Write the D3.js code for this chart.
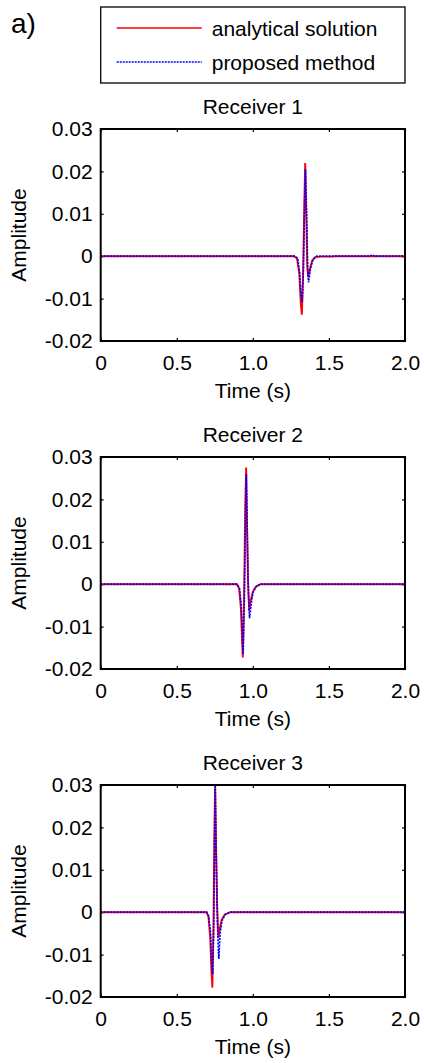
<!DOCTYPE html>
<html>
<head>
<meta charset="utf-8">
<script src="https://cdn.jsdelivr.net/npm/d3@7"></script>
<style>
	body { margin: 0; background: #fff; }
	svg { display: block; font-family: "Liberation Sans", Arial, sans-serif; }
	.axis text { font-size: 21px; fill: #000; }
	.axis line { stroke: #000; stroke-width: 1.2; }
</style>
</head>
<body>
<div id="chart"></div>
<script>

/*
Data (time in s, amplitude)
*/
var receiverNames = ["Receiver 1", "Receiver 2", "Receiver 3"];
var seriesNames = ["analytical solution", "proposed method"];

// Receiver 1
var r1AnalyticT = [0, 1.27, 1.29, 1.305, 1.315, 1.322, 1.33, 1.338, 1.344, 1.352, 1.358, 1.365, 1.375, 1.39, 1.41, 1.45, 1.53, 1.535, 2.0];
var r1AnalyticV = [0, 0, -0.0005, -0.004, -0.011, -0.0138, -0.005, 0.012, 0.022, 0.008, -0.003, -0.005, -0.003, -0.001, -0.0002, -0.0001, -0.0001, 0, 0];
var r1ProposedT = [0, 1.275, 1.295, 1.308, 1.317, 1.324, 1.332, 1.34, 1.346, 1.354, 1.36, 1.366, 1.378, 1.395, 1.42, 1.77, 1.78, 1.79, 1.80, 1.81, 2.0];
var r1ProposedV = [0, 0, -0.0005, -0.004, -0.0095, -0.0108, -0.003, 0.012, 0.0205, 0.009, -0.002, -0.0062, -0.003, -0.0008, 0, 0, 0.0002, 0.0003, -0.0001, 0, 0];

// Receiver 2
var r2AnalyticT = [0, 0.895, 0.91, 0.922, 0.93, 0.934, 0.942, 0.95, 0.956, 0.962, 0.968, 0.976, 0.985, 1.0, 1.02, 1.05, 2.0];
var r2AnalyticV = [0, 0, -0.001, -0.006, -0.014, -0.0173, -0.004, 0.018, 0.0275, 0.014, 0.001, -0.0063, -0.004, -0.0018, -0.0006, 0, 0];
var r2ProposedT = [0, 0.897, 0.912, 0.924, 0.932, 0.936, 0.944, 0.952, 0.957, 0.963, 0.97, 0.978, 0.988, 1.0, 1.02, 1.05, 2.0];
var r2ProposedV = [0, 0, -0.001, -0.005, -0.013, -0.0165, -0.004, 0.017, 0.026, 0.012, -0.001, -0.008, -0.005, -0.002, -0.0006, 0, 0];

// Receiver 3
var r3AnalyticT = [0, 0.695, 0.708, 0.72, 0.728, 0.734, 0.741, 0.747, 0.752, 0.758, 0.765, 0.773, 0.782, 0.795, 0.815, 0.85, 2.0];
var r3AnalyticV = [0, 0, -0.001, -0.006, -0.014, -0.0178, -0.004, 0.018, 0.0297, 0.016, 0.002, -0.006, -0.004, -0.0018, -0.0006, 0, 0];
var r3ProposedT = [0, 0.697, 0.71, 0.722, 0.73, 0.736, 0.743, 0.749, 0.753, 0.759, 0.767, 0.776, 0.785, 0.797, 0.817, 0.85, 2.0];
var r3ProposedV = [0, 0, -0.001, -0.005, -0.012, -0.0146, -0.003, 0.019, 0.030, 0.014, -0.002, -0.011, -0.005, -0.002, -0.0006, 0, 0];

/*
Tick values and labels
*/
var xTicks = [0, 0.5, 1.0, 1.5, 2.0];
var xTickLabels = ["0", "0.5", "1.0", "1.5", "2.0"];
var yTicks = [-0.02, -0.01, 0, 0.01, 0.02, 0.03];
var yTickLabels = ["-0.02", "-0.01", "0", "0.01", "0.02", "0.03"];

var analytic = [
	{ t: r1AnalyticT, v: r1AnalyticV },
	{ t: r2AnalyticT, v: r2AnalyticV },
	{ t: r3AnalyticT, v: r3AnalyticV }
];
var proposed = [
	{ t: r1ProposedT, v: r1ProposedV },
	{ t: r2ProposedT, v: r2ProposedV },
	{ t: r3ProposedT, v: r3ProposedV }
];

function toPoints(s) {
	return s.t.map(function(t, i) { return { t: t, v: s.v[i] }; });
}

/*
Layout
*/
var fullWidth = 424, fullHeight = 1063;
var plotLeft = 100.7, plotWidth = 304.3;
var plotTop = 129, plotHeight = 212, panelStep = 328;

var svg = d3.select("#chart").append("svg")
	.attr("width", fullWidth)
	.attr("height", fullHeight);

/*
Scales (shared by all panels)
*/
var xScale = d3.scaleLinear().domain([0, 2]).range([0, plotWidth]);
var yScale = d3.scaleLinear().domain([-0.02, 0.03]).range([plotHeight, 0]);

var line = d3.line()
	.x(function(d) { return xScale(d.t); })
	.y(function(d) { return yScale(d.v); });

/*
Panel label and legend
*/
svg.append("text")
	.attr("x", 11)
	.attr("y", 33)
	.attr("font-size", 28)
	.text("a)");

var legend = svg.append("g").attr("transform", "translate(100.7,7)");
legend.append("rect")
	.attr("width", 304.3)
	.attr("height", 76)
	.attr("fill", "#fff")
	.attr("stroke", "#000")
	.attr("stroke-width", 1.3);
legend.append("line")
	.attr("x1", 16).attr("x2", 101).attr("y1", 21).attr("y2", 21)
	.attr("stroke", "#ff0000").attr("stroke-width", 1.3);
legend.append("line")
	.attr("x1", 16).attr("x2", 101).attr("y1", 55).attr("y2", 55)
	.attr("stroke", "#0000ff").attr("stroke-width", 1.3)
	.attr("stroke-dasharray", "2,1");
legend.selectAll("text.leg")
	.data(seriesNames)
	.enter().append("text")
	.attr("class", "leg")
	.attr("x", 111)
	.attr("y", function(d, i) { return 28.5 + i * 34; })
	.attr("font-size", 21)
	.text(function(d) { return d; });

/*
Draw each receiver panel
*/
receiverNames.forEach(function(name, i) {

	var g = svg.append("g")
		.attr("transform", "translate(" + plotLeft + "," + (plotTop + i * panelStep) + ")");

	// Title
	g.append("text")
		.attr("x", plotWidth / 2)
		.attr("y", -15)
		.attr("text-anchor", "middle")
		.attr("font-size", 21)
		.text(name);

	// Left axis with labels
	g.append("g")
		.attr("class", "axis")
		.call(d3.axisLeft(yScale).tickValues(yTicks).tickSizeInner(-3).tickSizeOuter(0)
			.tickPadding(8)
			.tickFormat(function(d, j) { return yTickLabels[j]; }))
		.call(function(a) { a.select(".domain").remove(); })
		.selectAll("text").attr("font-size", 21).attr("font-family", null);

	// Right axis, ticks only
	g.append("g")
		.attr("class", "axis")
		.attr("transform", "translate(" + plotWidth + ",0)")
		.call(d3.axisRight(yScale).tickValues(yTicks).tickSizeInner(-3).tickSizeOuter(0)
			.tickFormat(""))
		.call(function(a) { a.select(".domain").remove(); });

	// Bottom axis with labels
	g.append("g")
		.attr("class", "axis")
		.attr("transform", "translate(0," + plotHeight + ")")
		.call(d3.axisBottom(xScale).tickValues(xTicks).tickSizeInner(-3).tickSizeOuter(0)
			.tickPadding(14)
			.tickFormat(function(d, j) { return xTickLabels[j]; }))
		.call(function(a) { a.select(".domain").remove(); })
		.selectAll("text").attr("font-size", 21).attr("font-family", null);

	// Top axis, ticks only
	g.append("g")
		.attr("class", "axis")
		.call(d3.axisTop(xScale).tickValues(xTicks).tickSizeInner(-3).tickSizeOuter(0)
			.tickFormat(""))
		.call(function(a) { a.select(".domain").remove(); });

	// Axis labels
	g.append("text")
		.attr("transform", "translate(" + (26 - plotLeft) + "," + (plotHeight / 2) + ") rotate(-90)")
		.attr("text-anchor", "middle")
		.attr("font-size", 21)
		.text("Amplitude");

	g.append("text")
		.attr("x", plotWidth / 2)
		.attr("y", plotHeight + 57)
		.attr("text-anchor", "middle")
		.attr("font-size", 21)
		.text("Time (s)");

	// Traces: analytical below, proposed dotted on top
	g.append("path")
		.datum(toPoints(analytic[i]))
		.attr("fill", "none")
		.attr("stroke", "#ff0000")
		.attr("stroke-width", 1.9)
		.attr("d", line);

	g.append("path")
		.datum(toPoints(proposed[i]))
		.attr("fill", "none")
		.attr("stroke", "#0000ff")
		.attr("stroke-width", 1.7)
		.attr("stroke-dasharray", "2,1.2")
		.attr("d", line);

	// Frame
	g.append("rect")
		.attr("width", plotWidth)
		.attr("height", plotHeight)
		.attr("fill", "none")
		.attr("stroke", "#000")
		.attr("stroke-width", 2);
});

</script>
</body>
</html>
